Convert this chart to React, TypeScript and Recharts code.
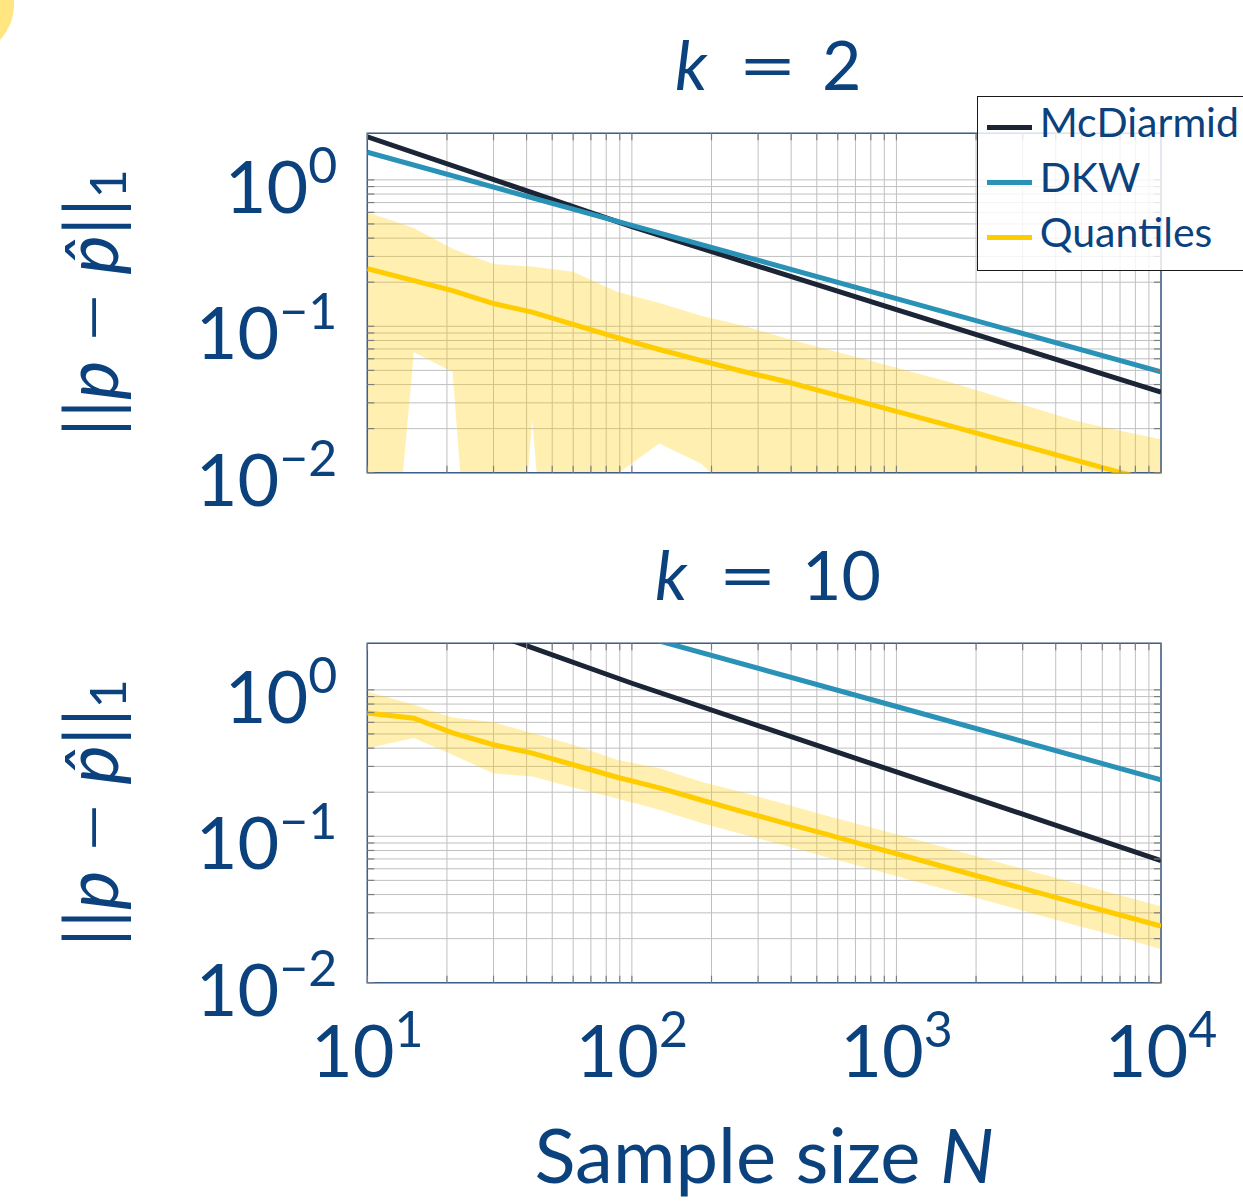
import { ComposedChart, Line, Area, XAxis, YAxis, CartesianGrid, Legend, ReferenceArea, Label } from 'recharts';

const FONT = 'Lato, "Noto Sans", sans-serif';
const INK = '#0b427e';
const GRID = '#c0c0c0';
const TICK = '#7d7d7d';
const FRAME = '#3e5f8a';
const C_MCD = '#1b2536';
const C_DKW = '#2a92b7';
const C_QUANT = '#ffcc00';

const PLOT_W = 1161 - 367.3;
const PLOT_H = 472.7 - 133.3;

const seriesNames = ['McDiarmid', 'DKW', 'Quantiles'];

// x values
const boundSizes = [10, 100, 1000, 10000];
const sampleSizes = [10, 15, 21, 30, 42, 60, 88, 127, 183, 264, 379, 546, 785, 1129, 1624, 2336, 3360, 4833, 6952, 10000];

// k = 2
const mcdiarmidK2 = [1.97, 0.48, 0.13, 0.0355];
const dkwK2 = [1.545, 0.489, 0.1545, 0.0489];
const quantMeanK2 = [0.247, 0.205, 0.175, 0.143, 0.125, 0.103, 0.0838, 0.0694, 0.0583, 0.0491, 0.0421, 0.0352, 0.0295, 0.0247, 0.0207, 0.0173, 0.0145, 0.0121, 0.0101, 0.0085];
const quantHiK2 = [0.602, 0.469, 0.339, 0.266, 0.256, 0.236, 0.172, 0.144, 0.118, 0.101, 0.0832, 0.0698, 0.0586, 0.0491, 0.0411, 0.0337, 0.0274, 0.0225, 0.0194, 0.0169];
const quantLoK2 = [0.00002, 0.0665, 0.0489, 0.00001, 0.0231, 0.00001, 0.0098, 0.0158, 0.0115, 0.006, 0.004, 0.0035, 0.003, 0.0025, 0.002, 0.0018, 0.0015, 0.0012, 0.001, 0.0008];

// k = 10
const mcdiarmidK10 = [4.89, 1.11, 0.275, 0.0683];
const dkwK10 = [7.7, 2.43, 0.77, 0.243];
const quantMeanK10 = [0.694, 0.641, 0.509, 0.422, 0.37, 0.308, 0.253, 0.214, 0.177, 0.147, 0.123, 0.103, 0.0857, 0.0716, 0.0598, 0.0499, 0.0417, 0.0348, 0.0291, 0.0244];
const quantHiK10 = [0.973, 0.79, 0.648, 0.6, 0.507, 0.422, 0.333, 0.292, 0.236, 0.199, 0.166, 0.138, 0.116, 0.0972, 0.0811, 0.0678, 0.0566, 0.0476, 0.0397, 0.0333];
const quantLoK10 = [0.4, 0.469, 0.361, 0.268, 0.256, 0.215, 0.181, 0.152, 0.123, 0.103, 0.0864, 0.072, 0.0603, 0.0503, 0.0421, 0.0352, 0.0294, 0.0245, 0.0206, 0.0169];

const xTicks = [10, 20, 30, 40, 50, 60, 70, 80, 90, 100, 200, 300, 400, 500, 600, 700, 800, 900, 1000, 2000, 3000, 4000, 5000, 6000, 7000, 8000, 9000, 10000];
const yTicks = [0.01, 0.02, 0.03, 0.04, 0.05, 0.06, 0.07, 0.08, 0.09, 0.1, 0.2, 0.3, 0.4, 0.5, 0.6, 0.7, 0.8, 0.9, 1];
const Y_DOMAIN = [0.01, 2.08];

const toBound = (vals: number[]) => boundSizes.map((n, i) => ({ n, v: vals[i] }));
const toBand = (mean: number[], lo: number[], hi: number[]) =>
  sampleSizes.map((n, i) => ({ n, v: mean[i], lo: lo[i], hi: hi[i] }));

const exponentOf = (v: number) => {
  const e = Math.log10(v);
  return Math.abs(e - Math.round(e)) < 1e-6 ? Math.round(e) : null;
};

function YTick(props: any) {
  const { x, y, payload } = props;
  const left = x + 30;
  const exp = exponentOf(payload.value);
  return (
    <g>
      <line x1={left} x2={left + 7} y1={y} y2={y} stroke={TICK} strokeWidth={1.2} />
      <line x1={left + PLOT_W - 7} x2={left + PLOT_W} y1={y} y2={y} stroke={TICK} strokeWidth={1.2} />
      {exp !== null && (
        <text x={x} y={y + 33} textAnchor="end" fill={INK} fontSize={72} fontFamily={FONT}>
          10
          <tspan dy={-30} fontSize={50}>{exp < 0 ? '\u2212' + -exp : exp}</tspan>
        </text>
      )}
    </g>
  );
}

function makeXTick(showLabels: boolean) {
  return (props: any) => {
    const { x, y, payload } = props;
    const exp = exponentOf(payload.value);
    return (
      <g>
        <line x1={x} x2={x} y1={y} y2={y - 7} stroke={TICK} strokeWidth={1.2} />
        <line x1={x} x2={x} y1={y - PLOT_H} y2={y - PLOT_H + 7} stroke={TICK} strokeWidth={1.2} />
        {showLabels && exp !== null && (
          <text x={x} y={y + 94} textAnchor="middle" fill={INK} fontSize={72} fontFamily={FONT}>
            10
            <tspan dy={-30} fontSize={50}>{exp}</tspan>
          </text>
        )}
      </g>
    );
  };
}

function YTitle(props: any) {
  const vb = props.viewBox;
  const cy = vb.y + vb.height / 2;
  const x = 118;
  return (
    <text x={x} y={cy} transform={`rotate(-90 ${x} ${cy})`} textAnchor="middle" fill={INK} fontSize={74} fontFamily={FONT}>
      ||<tspan fontStyle="italic">p</tspan>
      <tspan dx={20} fontSize={58} dy={-7}>{'\u2014'}</tspan>
      <tspan dx={20} dy={7} fontStyle="italic">{'p\u0302'}</tspan>||
      <tspan fontSize={50} dy={8}>1</tspan>
    </text>
  );
}

function XTitle(props: any) {
  const vb = props.viewBox;
  return (
    <text x={vb.x + vb.width / 2} y={vb.y + 200} textAnchor="middle" fill={INK} fontSize={76} fontFamily={FONT}>
      Sample size <tspan fontStyle="italic">N</tspan>
    </text>
  );
}

function LegendBox(props: any) {
  const items = (props.payload || [])
    .filter((p: any) => seriesNames.includes(p.value))
    .sort((a: any, b: any) => seriesNames.indexOf(a.value) - seriesNames.indexOf(b.value));
  return (
    <div
      style={{
        boxSizing: 'border-box',
        width: 267,
        height: 175,
        border: '1.5px solid #1a1a1a',
        borderRight: 'none',
        background: 'rgba(255,255,255,0.82)',
        padding: '4px 0 0 9px',
      }}
    >
      {items.map((item: any) => (
        <div key={item.value} style={{ display: 'flex', alignItems: 'center', height: 54.6 }}>
          <span style={{ display: 'inline-block', flexShrink: 0, width: 45, height: 5, background: item.color, marginRight: 8 }} />
          <span style={{ fontFamily: FONT, fontSize: 41, color: INK, lineHeight: 1, whiteSpace: 'nowrap', position: 'relative', top: -6 }}>
            {item.value}
          </span>
        </div>
      ))}
    </div>
  );
}

type PanelProps = {
  top: number;
  height: number;
  mcd: number[];
  dkw: number[];
  mean: number[];
  lo: number[];
  hi: number[];
  showLegend: boolean;
  showXLabels: boolean;
};

function Panel({ top, height, mcd, dkw, mean, lo, hi, showLegend, showXLabels }: PanelProps) {
  const band = toBand(mean, lo, hi);
  return (
    <div style={{ position: 'absolute', left: 0, top }}>
      <ComposedChart
        width={1243}
        height={height}
        margin={{ top: 133.3, right: 82, bottom: height - 472.7 - 40, left: 307.3 }}
      >
        <CartesianGrid stroke={GRID} strokeWidth={1} />
        <XAxis
          type="number"
          dataKey="n"
          scale="log"
          domain={[10, 10000]}
          allowDataOverflow
          ticks={xTicks}
          interval={0}
          height={40}
          axisLine={false}
          tickLine={false}
          tickSize={0}
          tickMargin={0}
          tick={makeXTick(showXLabels)}
        >
          {showXLabels && <Label content={<XTitle />} />}
        </XAxis>
        <YAxis
          type="number"
          scale="log"
          domain={Y_DOMAIN}
          allowDataOverflow
          ticks={yTicks}
          interval={0}
          width={60}
          axisLine={false}
          tickLine={false}
          tickSize={0}
          tickMargin={30}
          tick={<YTick />}
        >
          <Label content={<YTitle />} />
        </YAxis>
        <Area
          data={band}
          dataKey={(d: any) => [d.lo, d.hi]}
          name="band"
          stroke="none"
          fill={C_QUANT}
          fillOpacity={0.3}
          legendType="none"
          isAnimationActive={false}
        />
        <Line data={toBound(mcd)} dataKey="v" name={seriesNames[0]} stroke={C_MCD} strokeWidth={5} dot={false} isAnimationActive={false} />
        <Line data={toBound(dkw)} dataKey="v" name={seriesNames[1]} stroke={C_DKW} strokeWidth={5} dot={false} isAnimationActive={false} />
        <Line data={band} dataKey="v" name={seriesNames[2]} stroke={C_QUANT} strokeWidth={5} dot={false} isAnimationActive={false} />
        <ReferenceArea x1={10} x2={10000} y1={Y_DOMAIN[0]} y2={Y_DOMAIN[1]} fill="none" stroke={FRAME} strokeWidth={1.5} />
        {showLegend && (
          <Legend
            layout="vertical"
            align="center"
            verticalAlign="middle"
            content={<LegendBox />}
            wrapperStyle={{ left: 976.7, top: 95.7, width: 267 }}
          />
        )}
      </ComposedChart>
    </div>
  );
}

function Title({ x, y, value }: { x: number; y: number; value: string }) {
  return (
    <g fill={INK} fontSize={68} fontFamily={FONT}>
      <text x={x} y={y} fontStyle="italic">k</text>
      <text transform={`translate(${x + 63} ${y}) scale(1.5 1)`}>=</text>
      <text x={x + 147} y={y}>{value}</text>
    </g>
  );
}

export default function App() {
  return (
    <div style={{ position: 'absolute', left: 0, top: 0, width: 1243, height: 1203, overflow: 'hidden', background: '#fff' }}>
      <div
        style={{
          position: 'absolute',
          left: -91.2,
          top: -48.7,
          width: 105.4,
          height: 105.4,
          borderRadius: '50%',
          background: '#ffe680',
        }}
      />
      <Panel top={510} height={693} mcd={mcdiarmidK10} dkw={dkwK10} mean={quantMeanK10} lo={quantLoK10} hi={quantHiK10} showLegend={false} showXLabels />
      <Panel top={0} height={560} mcd={mcdiarmidK2} dkw={dkwK2} mean={quantMeanK2} lo={quantLoK2} hi={quantHiK2} showLegend showXLabels={false} />
      <svg width={1243} height={1203} style={{ position: 'absolute', left: 0, top: 0, pointerEvents: 'none' }}>
        <Title x={675} y={90} value="2" />
        <Title x={655} y={600} value="10" />
      </svg>
    </div>
  );
}
